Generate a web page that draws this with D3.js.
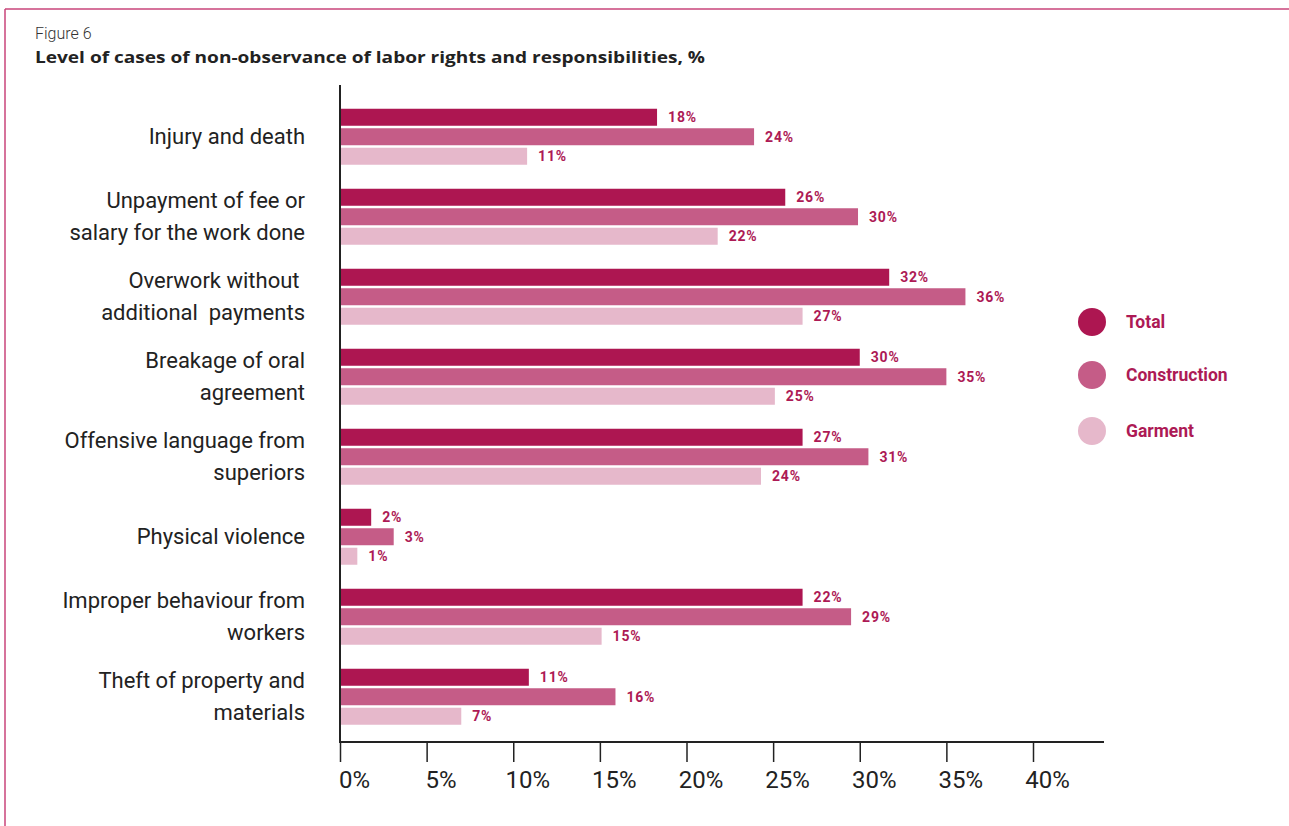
<!DOCTYPE html>
<html><head><meta charset="utf-8">
<script src="https://cdn.jsdelivr.net/npm/d3@7"></script>
<style>
html,body{margin:0;padding:0;background:#fff;}
svg{display:block;}
</style></head>
<body>
<svg id="chart" width="1289" height="826"></svg>
<script>
// ---- data ----
const categories = [
  ["Injury and death"],
  ["Unpayment of fee or", "salary for the work done"],
  ["Overwork without ", "additional  payments"],
  ["Breakage of oral", "agreement"],
  ["Offensive language from", "superiors"],
  ["Physical violence"],
  ["Improper behaviour from", "workers"],
  ["Theft of property and", "materials"]
];
const seriesNames = ["Total", "Construction", "Garment"];
// bar lengths as drawn in the picture (%)
const totalValues        = [18.3, 25.7, 31.7, 30.0, 26.7, 1.8, 26.7, 10.9];
const constructionValues = [23.9, 29.9, 36.1, 35.0, 30.5, 3.1, 29.5, 15.9];
const garmentValues      = [10.8, 21.8, 26.7, 25.1, 24.3, 1.0, 15.1, 7.0];
// printed value labels (%)
const totalLabels        = [18, 26, 32, 30, 27, 2, 22, 11];
const constructionLabels = [24, 30, 36, 35, 31, 3, 29, 16];
const garmentLabels      = [11, 22, 27, 25, 24, 1, 15, 7];
const xTicks = [0, 5, 10, 15, 20, 25, 30, 35, 40];

const colors = ["#ad1651", "#c55c87", "#e6b8cb"];
const labelColor = "#ad1a55";
const font = "Roboto, sans-serif";

const svg = d3.select("#chart");
const catKeys = categories.map(c => c.join(" "));
const seriesData = [
  {name: seriesNames[0], values: totalValues, labels: totalLabels},
  {name: seriesNames[1], values: constructionValues, labels: constructionLabels},
  {name: seriesNames[2], values: garmentValues, labels: garmentLabels}
];

// frame
svg.append("line").attr("x1", 5).attr("x2", 1289).attr("y1", 9).attr("y2", 9)
  .attr("stroke", "#c8457a").attr("stroke-width", 1.5);
svg.append("line").attr("x1", 5).attr("x2", 5).attr("y1", 9).attr("y2", 826)
  .attr("stroke", "#c8457a").attr("stroke-width", 1.5);

// titles
svg.append("text").attr("x", 35).attr("y", 39).text("Figure 6")
  .attr("font-family", font).attr("font-size", 16).attr("font-weight", 300)
  .attr("fill", "#333");
svg.append("text").attr("x", 35).attr("y", 63).text("Level of cases of non-observance of labor rights and responsibilities, %")
  .attr("font-family", "Open Sans, sans-serif").attr("font-size", 16).attr("font-weight", 700)
  .attr("fill", "#222").attr("textLength", 670).attr("lengthAdjust", "spacingAndGlyphs");

// scales
const x = d3.scaleLinear().domain([0, 40]).range([340, 1033]);
const y = d3.scaleBand().domain(catKeys).range([96.75, 736.75]).paddingInner(0.3).paddingOuter(0.15);
const ySub = d3.scaleBand().domain(seriesNames).range([0, y.bandwidth()]).paddingInner(0.128);

// bars
const groups = svg.append("g").selectAll("g").data(catKeys).join("g")
  .attr("transform", d => `translate(0,${y(d)})`);

seriesData.forEach((s, si) => {
  groups.append("rect")
    .attr("x", x(0))
    .attr("y", ySub(s.name))
    .attr("width", (d, i) => x(s.values[i]) - x(0))
    .attr("height", ySub.bandwidth())
    .attr("fill", colors[si]);
  groups.append("text")
    .attr("x", (d, i) => x(s.values[i]) + 11)
    .attr("y", ySub(s.name) + ySub.bandwidth() / 2)
    .attr("dy", "0.36em")
    .attr("font-family", font)
    .attr("font-weight", 700).attr("font-size", 14)
    .attr("letter-spacing", 0.8)
    .attr("fill", labelColor)
    .text((d, i) => s.labels[i] + "%");
});

// category labels
groups.each(function(d, i) {
  const lines = categories[i];
  const g = d3.select(this);
  const cy = y.bandwidth() / 2;
  const lh = 32;
  lines.forEach((ln, li) => {
    g.append("text")
      .attr("x", 305)
      .attr("y", cy + (li - (lines.length - 1) / 2) * lh)
      .attr("dy", "0.35em")
      .attr("text-anchor", "end")
      .attr("font-family", font)
      .attr("font-size", 22)
      .attr("font-weight", 400)
      .attr("fill", "#222")
      .style("white-space", "pre")
      .attr("xml:space", "preserve")
      .text(ln);
  });
});

// axes
const axisY = 742;
svg.append("line").attr("x1", x(0)).attr("x2", x(0)).attr("y1", 85).attr("y2", axisY)
  .attr("stroke", "#222").attr("stroke-width", 2);
const xAxis = d3.axisBottom(x).tickValues(xTicks).tickSize(20).tickFormat(d => d + "%");
const ax = svg.append("g").attr("transform", `translate(0,${axisY})`).call(xAxis);
ax.select(".domain").remove();
svg.append("line").attr("x1", x(0) - 1).attr("x2", 1104).attr("y1", axisY).attr("y2", axisY)
  .attr("stroke", "#222").attr("stroke-width", 2);
ax.selectAll(".tick line").attr("stroke", "#222").attr("stroke-width", 1.5);
ax.selectAll(".tick text")
  .attr("font-family", font).attr("font-size", 24).attr("font-weight", 400)
  .attr("fill", "#222").attr("y", 29).attr("dx", 14).attr("dy", "0.71em");

// legend
const legend = svg.append("g").selectAll("g").data(seriesNames).join("g")
  .attr("transform", (d, i) => `translate(1092,${[322, 375, 431][i]})`);
legend.append("circle").attr("r", 14).attr("fill", (d, i) => colors[i]);
legend.append("text").attr("x", 34).attr("dy", "0.35em")
  .attr("font-family", font).attr("font-weight", 700).attr("font-size", 17.5)
  .attr("fill", labelColor).text(d => d);
</script>
</body></html>
